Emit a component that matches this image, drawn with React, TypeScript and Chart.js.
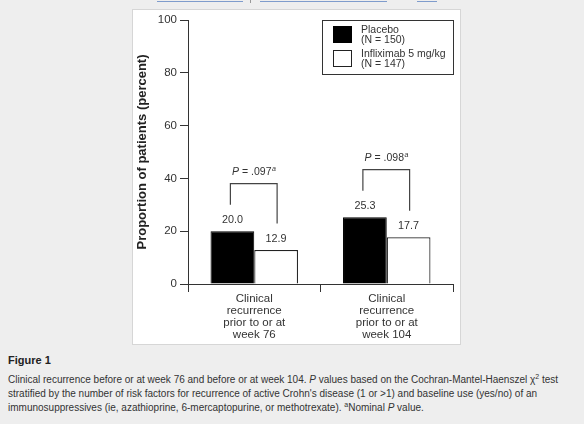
import { useEffect, useRef } from "react"
import { Chart, registerables } from "chart.js"

Chart.register(...registerables)

const categories = [
  ["Clinical", "recurrence", "prior to or at", "week 76"],
  ["Clinical", "recurrence", "prior to or at", "week 104"],
]
const placeboValues = [20.0, 25.3]
const infliximabValues = [12.9, 17.7]
const pValues = [".097", ".098"]
const legendLabels = [
  ["Placebo", "(N = 150)"],
  ["Infliximab 5 mg/kg", "(N = 147)"],
]
const yTickMin = 0
const yTickMax = 100
const yTickStep = 20

const FONT = "'Liberation Sans', Arial, Helvetica, sans-serif"
const INK = "#333"

const annotations = {
  id: "annotations",
  afterDatasetsDraw(chart: any) {
    const ctx = chart.ctx
    const y = chart.scales.y
    const area = chart.chartArea
    const m0 = chart.getDatasetMeta(0)
    const m1 = chart.getDatasetMeta(1)
    ctx.save()

    // value labels above bars
    ctx.fillStyle = INK
    ctx.font = `10.8px ${FONT}`
    ctx.textAlign = "center"
    ctx.textBaseline = "middle"
    ;[m0, m1].forEach((meta: any, i: number) => {
      const vals = i === 0 ? placeboValues : infliximabValues
      meta.data.forEach((bar: any, j: number) => {
        ctx.fillText(vals[j].toFixed(1), bar.x, bar.y - 11)
      })
    })

    // brackets with P values
    ctx.strokeStyle = "#444"
    ctx.lineWidth = 1.2
    categories.forEach((_, j) => {
      const lx = m0.data[j].x - 2
      const rx = m1.data[j].x + 1
      const ly = y.getPixelForValue(placeboValues[j] + 10)
      const ry = y.getPixelForValue(infliximabValues[j] + 10)
      const ty = y.getPixelForValue(Math.max(placeboValues[j], infliximabValues[j]) + 18)
      ctx.beginPath()
      ctx.moveTo(lx, ly)
      ctx.lineTo(lx, ty)
      ctx.lineTo(rx, ty)
      ctx.lineTo(rx, ry)
      ctx.stroke()

      const italic = `italic 10.5px ${FONT}`
      const normal = `10.5px ${FONT}`
      const sup = `italic 7px ${FONT}`
      const rest = " = " + pValues[j]
      ctx.font = italic
      const w1 = ctx.measureText("P").width
      ctx.font = normal
      const w2 = ctx.measureText(rest).width
      ctx.font = sup
      const w3 = ctx.measureText("a").width
      let x = (lx + rx) / 2 - (w1 + w2 + w3) / 2
      const cy = ty - 12
      ctx.textAlign = "left"
      ctx.textBaseline = "middle"
      ctx.font = italic
      ctx.fillText("P", x, cy)
      x += w1
      ctx.font = normal
      ctx.fillText(rest, x, cy)
      x += w2
      ctx.font = sup
      ctx.fillText("a", x + 0.5, cy - 3)
    })

    // legend box
    const bw = 131
    const bh = 54
    const bx = area.right - bw
    const by = area.top
    ctx.strokeStyle = "#333"
    ctx.lineWidth = 1
    ctx.strokeRect(bx + 0.5, by + 0.5, bw, bh)
    ctx.fillStyle = "#000"
    ctx.fillRect(bx + 11, by + 6, 19, 17)
    ctx.fillStyle = "#fff"
    ctx.fillRect(bx + 11, by + 30, 19, 17)
    ctx.strokeStyle = "#222"
    ctx.strokeRect(bx + 11.5, by + 30.5, 18, 16)
    ctx.fillStyle = INK
    ctx.font = `10.5px ${FONT}`
    ctx.textAlign = "left"
    ctx.textBaseline = "middle"
    legendLabels.forEach((lines, i) => {
      lines.forEach((t, k) => {
        ctx.fillText(t, bx + 39, by + 10 + i * 24 + k * 10)
      })
    })
    ctx.restore()
  },
}

function BarChart() {
  const canvasRef = useRef<HTMLCanvasElement>(null)
  const chartRef = useRef<Chart | null>(null)

  useEffect(() => {
    if (!canvasRef.current) return
    if (chartRef.current) chartRef.current.destroy()

    chartRef.current = new Chart(canvasRef.current, {
      type: "bar",
      data: {
        labels: categories,
        datasets: [
          {
            label: legendLabels[0].join(" "),
            data: placeboValues,
            backgroundColor: "#000",
            borderColor: "#000",
            borderWidth: 1,
            categoryPercentage: 0.66,
            barPercentage: 1,
          },
          {
            label: legendLabels[1].join(" "),
            data: infliximabValues,
            backgroundColor: "#fff",
            borderColor: "#222",
            borderWidth: 1.2,
            categoryPercentage: 0.66,
            barPercentage: 1,
          },
        ],
      },
      options: {
        animation: false,
        responsive: false,
        devicePixelRatio: 1,
        layout: { padding: { top: 10, right: 7, left: 0, bottom: 0 } },
        plugins: {
          legend: { display: false },
          tooltip: { enabled: false },
        },
        scales: {
          x: {
            offset: true,
            grid: {
              offset: true,
              drawOnChartArea: false,
              drawTicks: true,
              tickLength: 8,
              color: "#333",
            },
            border: { display: true, color: "#333", width: 1 },
            ticks: {
              color: INK,
              padding: 1,
              font: { family: FONT, size: 11.5, lineHeight: 1.05 },
              maxRotation: 0,
            },
            afterFit: (s: any) => {
              s.height = 60
            },
          },
          y: {
            min: yTickMin,
            max: yTickMax,
            ticks: {
              stepSize: yTickStep,
              color: INK,
              padding: 3,
              font: { family: FONT, size: 11.5 },
            },
            grid: {
              drawOnChartArea: false,
              drawTicks: true,
              tickLength: 8,
              color: "#333",
            },
            border: { display: true, color: "#333", width: 1 },
            title: {
              display: true,
              text: "Proportion of patients (percent)",
              color: "#222",
              font: { family: FONT, size: 13, weight: "bold" },
              padding: { top: 2, bottom: 0 },
            },
            afterFit: (s: any) => {
              s.width = 55
            },
          },
        },
      },
      plugins: [annotations],
    })

    return () => {
      if (chartRef.current) {
        chartRef.current.destroy()
        chartRef.current = null
      }
    }
  }, [])

  return <canvas ref={canvasRef} width={327} height={334} style={{ display: "block", width: 327, height: 334 }} />
}

const link = (left: number, width: number) => (
  <div style={{ position: "absolute", left, top: 0, width, height: 1, borderBottom: "1px solid #7f9ccc" }} />
)

export default function App() {
  return (
    <div
      style={{
        position: "absolute",
        left: 0,
        top: 0,
        width: 584,
        height: 424,
        background: "#eeeeee",
        fontFamily: FONT,
        color: INK,
        overflow: "hidden",
      }}
    >
      {link(157, 86)}
      <div style={{ position: "absolute", left: 250, top: 0, width: 1, height: 3, background: "#999" }} />
      {link(260, 127)}
      {link(417, 20)}
      <div
        style={{
          position: "absolute",
          left: 132,
          top: 9,
          width: 327,
          height: 334,
          background: "#fff",
          border: "1px solid #d6d6d6",
        }}
      >
        <BarChart />
      </div>
      <div style={{ position: "absolute", left: 8, top: 354, fontSize: 11, fontWeight: "bold", color: "#222" }}>
        Figure 1
      </div>
      <div
        style={{
          position: "absolute",
          left: 8,
          top: 373,
          fontSize: 10,
          lineHeight: "14px",
          whiteSpace: "nowrap",
          color: INK,
        }}
      >
        Clinical recurrence before or at week 76 and before or at week 104. <i>P</i> values based on the
        Cochran-Mantel-Haenszel χ<sup style={{ fontSize: 7, lineHeight: 0 }}>2</sup> test
        <br />
        stratified by the number of risk factors for recurrence of active Crohn's disease (1 or &gt;1) and baseline use
        (yes/no) of an
        <br />
        immunosuppressives (ie, azathioprine, 6-mercaptopurine, or methotrexate).{" "}
        <sup style={{ fontSize: 7, lineHeight: 0 }}>a</sup>Nominal <i>P</i> value.
      </div>
    </div>
  )
}
